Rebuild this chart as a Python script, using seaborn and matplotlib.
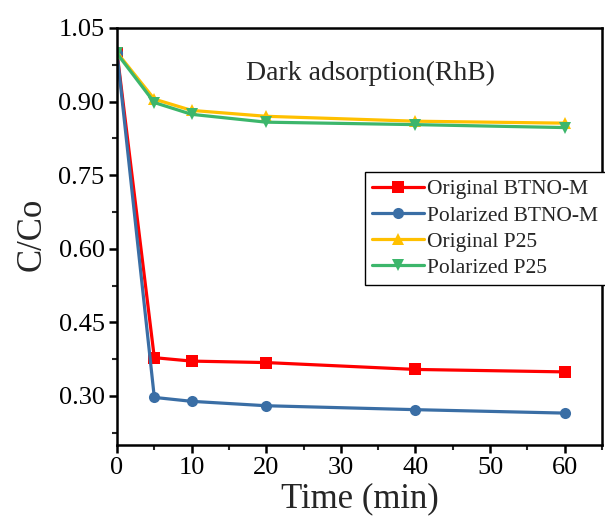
import matplotlib
matplotlib.use("Agg")
import matplotlib.pyplot as plt
from matplotlib.ticker import MultipleLocator, FormatStrFormatter
import seaborn as sns
import pandas as pd

time_min = [0, 5, 10, 20, 40, 60]
series_names = ["Original BTNO-M", "Polarized BTNO-M", "Original P25", "Polarized P25"]
orig_btno = [1.00, 0.378, 0.371, 0.368, 0.354, 0.349]
pol_btno = [1.00, 0.297, 0.289, 0.280, 0.272, 0.265]
orig_p25 = [1.00, 0.905, 0.882, 0.870, 0.860, 0.856]
pol_p25 = [0.998, 0.898, 0.874, 0.858, 0.853, 0.847]
values = [orig_btno, pol_btno, orig_p25, pol_p25]

colors = ["#FF0000", "#3A6EA5", "#FFC000", "#3CB66B"]
markers = ["s", "o", "^", "v"]

rows = []
for name, vals in zip(series_names, values):
    for t, v in zip(time_min, vals):
        rows.append({"Time": t, "C/Co": v, "Series": name})
df = pd.DataFrame(rows)

sns.set_style("ticks")
plt.rcParams["font.family"] = ["Liberation Serif", "DejaVu Serif"]

fig = plt.figure(figsize=(6.05, 5.25), dpi=100)
ax = fig.add_axes([0.1934, 0.1524, 0.8016, 0.7943])

sns.lineplot(data=df, x="Time", y="C/Co", hue="Series", style="Series",
             hue_order=series_names, style_order=series_names,
             palette=dict(zip(series_names, colors)),
             markers=dict(zip(series_names, markers)),
             dashes=False, linewidth=2.3, markersize=8,
             markeredgewidth=0, ax=ax)

ax.set_xlim(0, 65)
ax.set_ylim(0.20, 1.05)
ax.xaxis.set_major_locator(MultipleLocator(10))
ax.xaxis.set_minor_locator(MultipleLocator(5))
ax.yaxis.set_major_locator(MultipleLocator(0.15))
ax.yaxis.set_minor_locator(MultipleLocator(0.075))
ax.yaxis.set_major_formatter(FormatStrFormatter("%.2f"))
ax.tick_params(axis="both", which="major", direction="out", length=6, width=1.8,
               labelsize=19, colors="black", pad=3)
ax.tick_params(axis="both", which="minor", direction="out", length=3.5, width=1.5)
for s in ax.spines.values():
    s.set_linewidth(1.8)
    s.set_color("black")
    s.set_visible(True)

ax.set_xlabel("Time (min)", fontsize=25, labelpad=2)
ax.set_ylabel("C/Co", fontsize=25)
ax.yaxis.set_label_coords(-0.14, 0.505)

ax.text(34, 0.958, "Dark adsorption(RhB)", fontsize=20, ha="center", va="center")

handles, labels = ax.get_legend_handles_labels()
leg = ax.legend(handles, labels, loc="upper left", bbox_to_anchor=(0.511, 0.655),
                borderaxespad=0, fontsize=15.5, frameon=True, fancybox=False,
                edgecolor="black", framealpha=1, handlelength=2.4,
                handletextpad=0.15, labelspacing=0.28, borderpad=0.35)
leg.get_frame().set_linewidth(1.0)

fig.savefig("out.png", dpi=100)
